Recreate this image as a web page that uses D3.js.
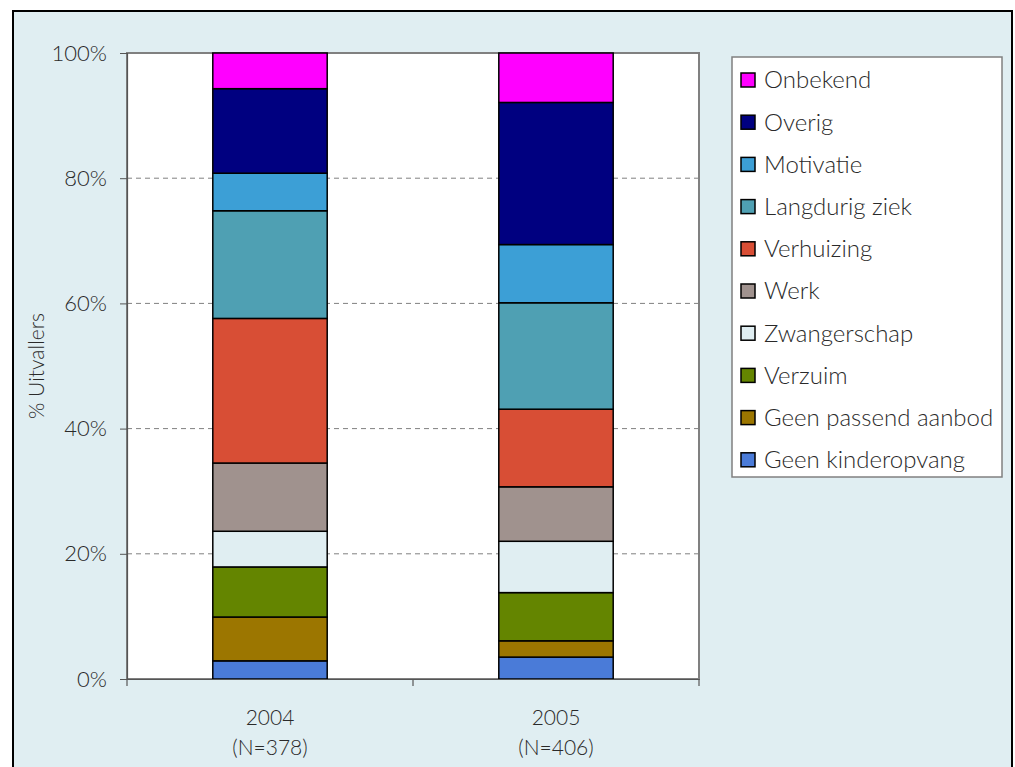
<!DOCTYPE html>
<html>
<head>
<meta charset="utf-8">
<script src="https://cdn.jsdelivr.net/npm/d3@7"></script>
<style>
  html, body { margin: 0; padding: 0; background: #ffffff; }
  svg { display: block; }
  text { font-family: Lato, "Open Sans", sans-serif; font-weight: 300; fill: #2a2a2a; }
</style>
</head>
<body>
<svg id="chart" width="1015" height="767"></svg>
<script>
// ---- Data ----
const years = ["2004", "2005"];
const yearLabels = [["2004", "(N=378)"], ["2005", "(N=406)"]];
const categories = ["Geen kinderopvang", "Geen passend aanbod", "Verzuim", "Zwangerschap", "Werk",
                    "Verhuizing", "Langdurig ziek", "Motivatie", "Overig", "Onbekend"];
const values2004 = [2.9, 7.0, 8.0, 5.7, 10.9, 23.1, 17.2, 6.0, 13.5, 5.7];
const values2005 = [3.5, 2.6, 7.7, 8.2, 8.7, 12.4, 17.0, 9.3, 22.7, 7.9];
const colors = ["#4A7BD8", "#9C7600", "#648500", "#E0EEF2", "#A0928E",
                "#D84E35", "#4FA0B3", "#3C9FD6", "#000080", "#FF00FF"];
const yTicks = [0, 20, 40, 60, 80, 100];
const yTitle = "% Uitvallers";

// ---- Layout ----
const svg = d3.select("#chart");
const plot = { left: 127, right: 699, top: 53, bottom: 679 };

// outer background + border
svg.append("rect").attr("x", 13).attr("y", 11).attr("width", 999).attr("height", 780)
  .attr("fill", "#E0EEF2").attr("stroke", "#000").attr("stroke-width", 2);

// plot area
svg.append("rect").attr("x", plot.left).attr("y", plot.top)
  .attr("width", plot.right - plot.left).attr("height", plot.bottom - plot.top)
  .attr("fill", "#fff").attr("stroke", "#808080").attr("stroke-width", 2);

const x = d3.scaleBand().domain(years).range([plot.left, plot.right])
  .paddingInner(0.6).paddingOuter(0.3);
const y = d3.scaleLinear().domain([0, 100]).range([plot.bottom, plot.top]);

// gridlines
svg.append("g").selectAll("line").data(yTicks.filter(t => t > 0 && t < 100)).join("line")
  .attr("x1", plot.left).attr("x2", plot.right)
  .attr("y1", d => y(d)).attr("y2", d => y(d))
  .attr("stroke", "#808080").attr("stroke-width", 1).attr("stroke-dasharray", "5,4");

// stacked data
const table = years.map((yr, i) => {
  const row = { year: yr };
  const vals = i === 0 ? values2004 : values2005;
  categories.forEach((c, j) => row[c] = vals[j]);
  return row;
});
const stack = d3.stack().keys(categories)(table);

svg.append("g").selectAll("g").data(stack).join("g")
  .attr("fill", (d, i) => colors[i])
  .selectAll("rect").data(d => d).join("rect")
  .attr("x", d => x(d.data.year))
  .attr("width", x.bandwidth())
  .attr("y", d => y(d[1]))
  .attr("height", d => y(d[0]) - y(d[1]))
  .attr("stroke", "#000").attr("stroke-width", 1.5);

// y axis
const yAxis = svg.append("g").attr("transform", `translate(${plot.left},0)`)
  .call(d3.axisLeft(y).tickValues(yTicks).tickFormat(d => d + "%").tickSize(7).tickPadding(13));
yAxis.select(".domain").attr("stroke", "#555").attr("stroke-width", 1.2);
yAxis.selectAll(".tick line").attr("stroke", "#555");
yAxis.selectAll("text").attr("font-size", 22).attr("fill", "#2a2a2a")
  .style("font-family", "Lato, sans-serif").style("font-weight", 300);

// x axis
const xAxis = svg.append("g").attr("transform", `translate(0,${plot.bottom})`)
  .call(d3.axisBottom(x).tickSize(0).tickFormat(""));
xAxis.select(".domain").attr("stroke", "#555").attr("stroke-width", 1.2);
const seps = [plot.left, (x("2004") + x.bandwidth() + x("2005")) / 2, plot.right];
svg.append("g").selectAll("line").data(seps).join("line")
  .attr("x1", d => d).attr("x2", d => d)
  .attr("y1", plot.bottom).attr("y2", plot.bottom + 7)
  .attr("stroke", "#555").attr("stroke-width", 1.2);

const xl = svg.append("g").selectAll("text").data(yearLabels).join("text")
  .attr("x", (d, i) => x(years[i]) + x.bandwidth() / 2)
  .attr("y", 725)
  .attr("text-anchor", "middle").attr("font-size", 21);
xl.append("tspan").attr("x", (d, i) => x(years[i]) + x.bandwidth() / 2).text(d => d[0]);
xl.append("tspan").attr("x", (d, i) => x(years[i]) + x.bandwidth() / 2).attr("dy", 30).text(d => d[1]);

// y title
svg.append("text").attr("transform", `translate(44,${(plot.top + plot.bottom) / 2}) rotate(-90)`)
  .attr("text-anchor", "middle").attr("font-size", 21).text(yTitle);

// legend
const lg = svg.append("g");
lg.append("rect").attr("x", 732).attr("y", 57).attr("width", 270).attr("height", 420)
  .attr("fill", "#fff").attr("stroke", "#808080").attr("stroke-width", 1.5);
const legendOrder = categories.map((c, i) => ({ c, col: colors[i] })).reverse();
const li = lg.selectAll("g.item").data(legendOrder).join("g").attr("class", "item")
  .attr("transform", (d, i) => `translate(741,${80 + i * 42.2})`);
li.append("rect").attr("x", 0).attr("y", -7).attr("width", 14).attr("height", 14)
  .attr("fill", d => d.col).attr("stroke", "#000").attr("stroke-width", 1.5);
li.append("text").attr("x", 23).attr("y", 0).attr("dy", "0.35em").attr("font-size", 24)
  .text(d => d.c);
</script>
</body>
</html>
